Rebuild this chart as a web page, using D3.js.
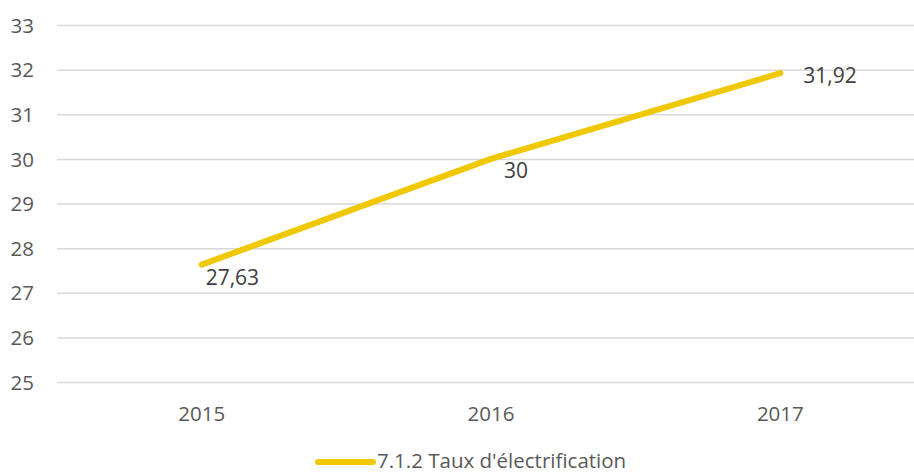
<!DOCTYPE html>
<html>
<head>
<meta charset="utf-8">
<script src="https://cdnjs.cloudflare.com/ajax/libs/d3/7.8.5/d3.min.js"></script>
<style>
  body { margin: 0; background: #fff; }
  text { font-family: 'Open Sans', sans-serif; }
</style>
</head>
<body>
<div id="chart"></div>
<script>
// data
var years = ['2015', '2016', '2017']
var values = [27.63, 30, 31.92]
var valueLabels = ['27,63', '30', '31,92']
var yTicks = [25, 26, 27, 28, 29, 30, 31, 32, 33]
var seriesName = "7.1.2 Taux d'électrification"

// label offsets (px, from the point)
var labelOffsets = [[4, 20], [13, 19], [23, 10]]

var margin = { top: 25, left: 57, right: -11, bottom: 93 }
var width = 914 - margin.left - margin.right
var height = 475 - margin.top - margin.bottom

var svg = d3
  .select('#chart')
  .append('svg')
  .attr('width', 914)
  .attr('height', 475)

var g = svg.append('g').attr('transform', `translate(${margin.left},${margin.top})`)

var xPositionScale = d3.scaleBand().domain(years).range([0, width])
var yPositionScale = d3.scaleLinear().domain([25, 33]).range([height, 0])

// gridlines
var yAxis = d3
  .axisLeft(yPositionScale)
  .tickValues(yTicks)
  .tickSize(-width)
  .tickPadding(23)
  .tickFormat(d3.format('d'))

g.append('g')
  .attr('class', 'axis y-axis')
  .call(yAxis)
  .call(ax => ax.select('.domain').remove())
  .call(ax => ax.selectAll('line').attr('stroke', '#d9d9d9').attr('stroke-width', 1.5))
  .call(ax => ax.selectAll('text').attr('fill', '#595959').style('font-size', '20.5px').attr('dy', '0.35em'))

var xAxis = d3.axisBottom(xPositionScale).tickSize(0).tickPadding(24)

g.append('g')
  .attr('class', 'axis x-axis')
  .attr('transform', `translate(0,${height})`)
  .call(xAxis)
  .call(ax => ax.select('.domain').remove())
  .call(ax => ax.selectAll('text').attr('fill', '#595959').style('font-size', '20.5px'))

var points = years.map((y, i) => ({ year: y, value: values[i], label: valueLabels[i] }))

var line = d3
  .line()
  .x(d => xPositionScale(d.year) + xPositionScale.bandwidth() / 2)
  .y(d => yPositionScale(d.value))

g.append('path')
  .datum(points)
  .attr('d', line)
  .attr('fill', 'none')
  .attr('stroke', '#f0c800')
  .attr('stroke-width', 6)
  .attr('stroke-linecap', 'round')
  .attr('stroke-linejoin', 'round')

g.selectAll('.value-label')
  .data(points)
  .enter()
  .append('text')
  .attr('class', 'value-label')
  .attr('x', (d, i) => xPositionScale(d.year) + xPositionScale.bandwidth() / 2 + labelOffsets[i][0])
  .attr('y', (d, i) => yPositionScale(d.value) + labelOffsets[i][1])
  .attr('fill', '#404040')
  .style('font-size', '21px')
  .text(d => d.label)

// legend
var legend = svg.append('g').attr('transform', 'translate(318,462)')

legend
  .append('line')
  .attr('x1', 0)
  .attr('x2', 55)
  .attr('stroke', '#f0c800')
  .attr('stroke-width', 6)
  .attr('stroke-linecap', 'round')

legend
  .append('text')
  .attr('x', 59)
  .attr('y', 6)
  .attr('fill', '#595959')
  .style('font-size', '20.5px')
  .text(seriesName)
</script>
</body>
</html>
